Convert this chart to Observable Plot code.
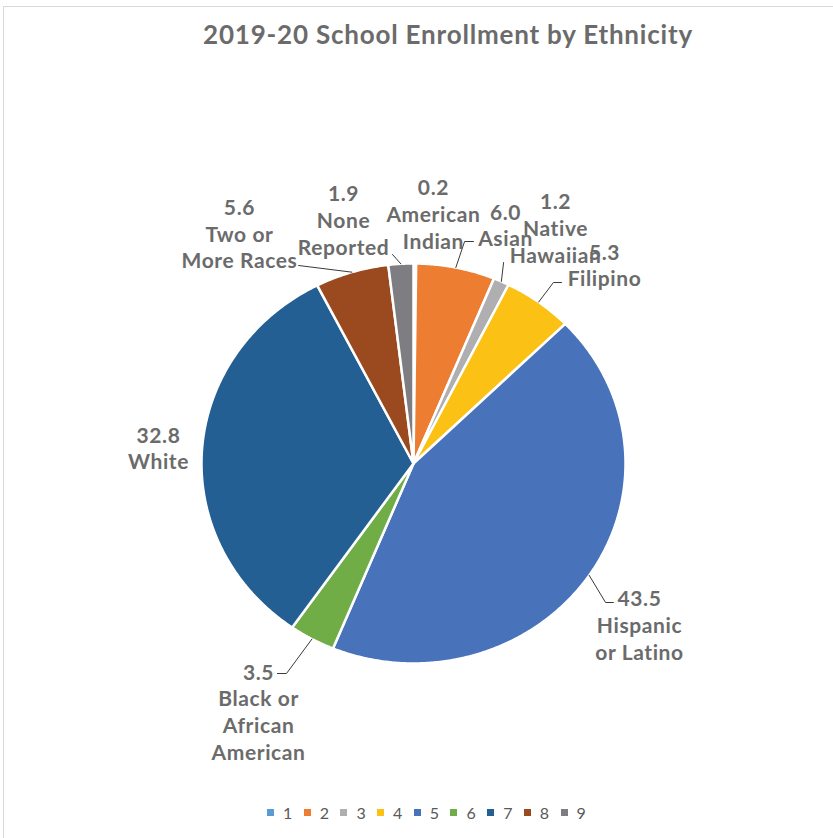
<!DOCTYPE html>
<html><head><meta charset="utf-8">
<script src="https://cdn.jsdelivr.net/npm/d3@7"></script>
<script src="https://cdn.jsdelivr.net/npm/@observablehq/plot@0.6"></script>
<style>
body{margin:0;background:#fff;}
#wrap{position:relative;width:833px;height:838px;overflow:hidden;background:#fff;}
#frame{position:absolute;left:3px;top:6px;width:900px;height:900px;border-top:1.5px solid #d9d9d9;border-left:1.5px solid #d9d9d9;}
#title{position:absolute;top:18px;left:448px;transform:translateX(-50%);white-space:nowrap;font-family:Lato,sans-serif;font-weight:bold;font-size:26px;letter-spacing:0.8px;color:#6b6b6b;line-height:32px;}
#chart{position:absolute;top:60px;left:0;}
#legend{position:absolute;top:802px;left:267px;display:flex;}
.item{width:36.7px;display:flex;align-items:center;font-family:Lato,sans-serif;font-size:16px;color:#595959;height:20px;}
.sw{width:7px;height:7px;margin-right:9px;flex:none;}
</style></head><body>
<div id="wrap"><div id="frame"></div><div id="title">2019-20 School Enrollment by Ethnicity</div><div id="chart"></div><div id="legend"></div></div>
<script>
// ---- data ----
const categories = ["American Indian","Asian","Native Hawaiian","Filipino","Hispanic or Latino","Black or African American","White","Two or More Races","None Reported"];
const labelLines = [["American","Indian"],["Asian"],["Native","Hawaiian"],["Filipino"],["Hispanic","or Latino"],["Black or","African","American"],["White"],["Two or","More Races"],["None","Reported"]];
const values = [0.2, 6.0, 1.2, 5.3, 43.5, 3.5, 32.8, 5.6, 1.9];
const legendLabels = ["1","2","3","4","5","6","7","8","9"];
const colors = ["#5B9BD5","#ED7D31","#AFAFB1","#FBC115","#4872BA","#70AD47","#245F93","#9B4A20","#7E7E82"];

// ---- label layout (in pie-radius units) ----
const labelPos = [[0.094,1.25],[0.434,1.195],[0.67,1.18],[0.901,0.995],[1.066,-0.805],[-0.731,-1.2375],[-1.203,0.08],[-0.821,1.1525],[-0.33,1.22]];
const leaderPts = [null,[[0.283,1.11],[0.241,1.11]],[[0.425,1.005]],[[0.698,0.905],[0.66,0.905]],[[0.943,-0.695],[0.906,-0.695]],[[-0.642,-1.05],[-0.599,-1.05]],null,[[-0.542,0.99]],[[-0.099,1.045]]];

// ---- geometry from values ----
const total = d3.sum(values);
const slicePts = [];
const labels = [];
const leaders = [];
let acc = 0;
values.forEach((v, i) => {
  const a0 = acc / total * 2 * Math.PI;
  acc += v;
  const a1 = acc / total * 2 * Math.PI;
  const cat = categories[i];
  slicePts.push({cat, u: 0, v: 0});
  const n = Math.max(2, Math.ceil((a1 - a0) / (Math.PI / 360)));
  for (let k = 0; k <= n; k++) {
    const a = a0 + (a1 - a0) * k / n;
    slicePts.push({cat, u: Math.sin(a), v: Math.cos(a)});
  }
  slicePts.push({cat, u: 0, v: 0});
  labels.push({cat, u: labelPos[i][0], v: labelPos[i][1], t: [v.toFixed(1), ...labelLines[i]].join("\n")});
  if (leaderPts[i]) {
    const am = (a0 + a1) / 2;
    leaderPts[i].forEach(p => leaders.push({i, u: p[0], v: p[1]}));
    leaders.push({i, u: Math.sin(am), v: Math.cos(am)});
  }
});

const chart = Plot.plot({
  width: 833, height: 730,
  marginLeft: 201, marginRight: 208, marginTop: 203, marginBottom: 127,
  x: {domain: [-1, 1], axis: null},
  y: {domain: [-1, 1], axis: null},
  color: {domain: categories, range: colors},
  style: {background: "transparent", overflow: "visible", letterSpacing: "0.6px"},
  marks: [
    Plot.line(slicePts, {x: "u", y: "v", z: "cat", fill: "cat", stroke: "white", strokeWidth: 2.5, strokeLinejoin: "round", curve: "linear"}),
    Plot.line(leaders, {x: "u", y: "v", z: "i", stroke: "#3a3a3a", strokeWidth: 1}),
    Plot.text(labels, {x: "u", y: "v", text: "t", fontSize: 21, fontWeight: "bold", fontFamily: "Lato", fill: "#6b6b6b", lineHeight: 1.27})
  ]
});
document.getElementById("chart").appendChild(chart);

const legend = d3.select("#legend");
legendLabels.forEach((l, i) => {
  const it = legend.append("div").attr("class", "item");
  it.append("div").attr("class", "sw").style("background", colors[i]);
  it.append("span").text(l);
});
</script>
</body></html>
